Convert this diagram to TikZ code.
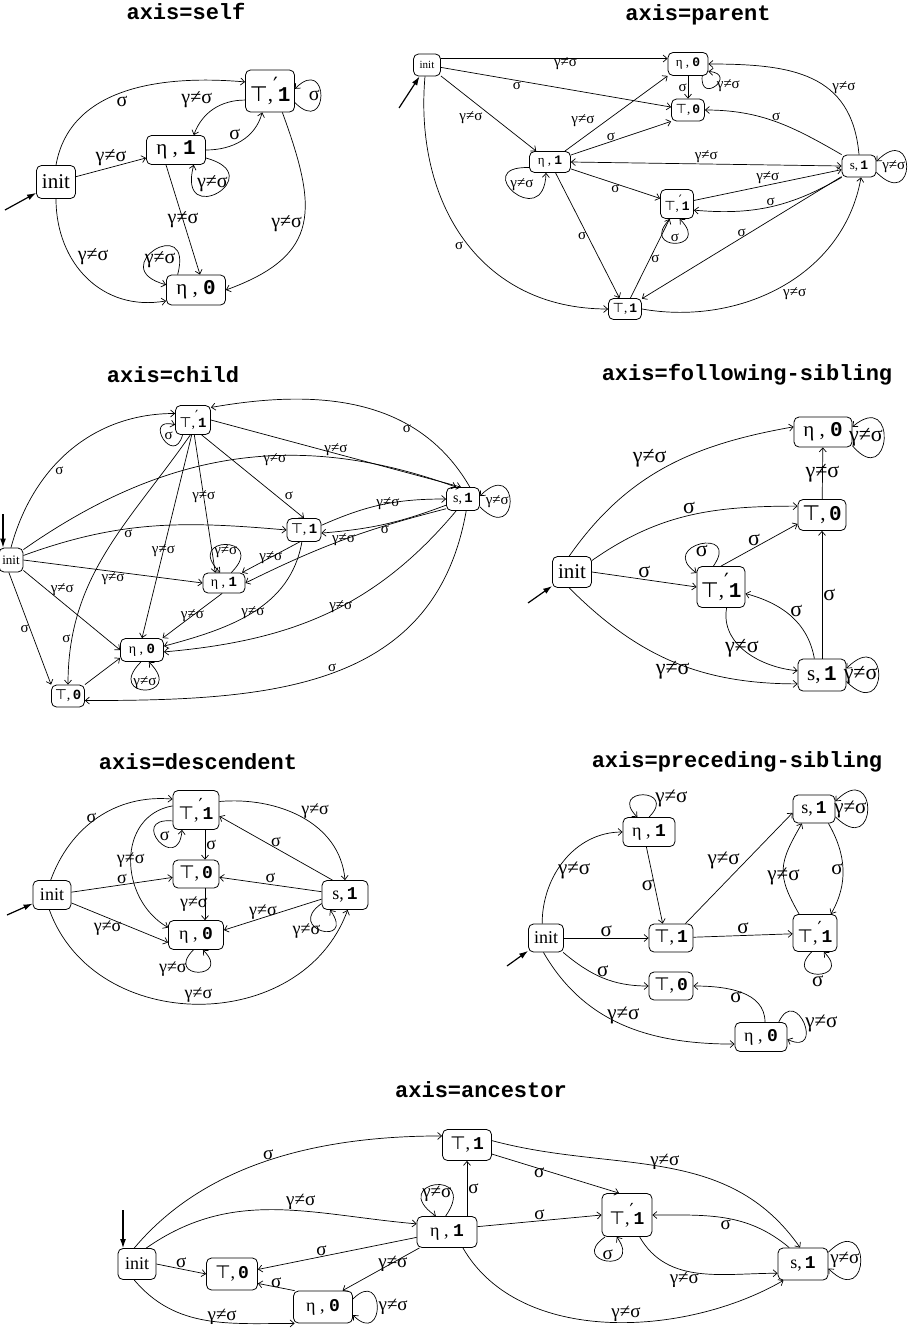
\documentclass[tikz,border=0pt]{standalone}
\usepackage{fontspec}
\setmainfont{Liberation Serif}
\setmonofont{Liberation Mono}
\newfontfamily\symf{DejaVu Sans}
\usetikzlibrary{arrows.meta}

\newcommand{\nm}[1]{\texttt{\bfseries #1}}
\newcommand{\stT}[1]{{\symf ⊤},\,\nm{#1}}
\newcommand{\stTp}[1]{{\symf ⊤},\raisebox{.45em}{\symf ′}\nm{#1}}
\newcommand{\stE}[1]{η\ ,\ \nm{#1}}
\newcommand{\stS}[1]{s,\,\nm{#1}}
\newcommand{\lgs}{γ≠σ}
\newcommand{\lsg}{σ}

\tikzset{
  >={Straight Barb[length=4pt,width=7pt]},
  st/.style 2 args={draw, rounded corners=5pt, line width=0.8pt, inner sep=0pt,
    minimum width=#1, minimum height=#2},
  tr/.style={->, line width=0.7pt},
  start/.style={-{Latex[length=9pt,width=6pt]}, line width=1.2pt},
  lbl/.style={inner sep=1pt},
  lp/.style={min distance=#1},
  ttl/.style={font=\fontsize{22}{24}\selectfont\ttfamily\bfseries}
}

\begin{document}
\begin{tikzpicture}[x=1pt,y=1pt]
\useasboundingbox (0,0) rectangle (921,-1330);

\node[ttl] (t1) at (186,-11) {axis=self};
\begin{scope}[font=\fontsize{21}{23}\selectfont, lbl/.style={inner sep=1pt,font=\fontsize{20}{22}\selectfont}]
\node[st={39}{33}] (sI) at (56,-182) {init};
\node[st={59}{29}] (sE1) at (176,-150) {\stE{1}};
\node[st={49}{42}] (sT1p) at (270,-91) {\stTp{1}};
\node[st={59}{30}] (sE0) at (196,-290) {\stE{0}};
\coordinate (s0) at (5,-210);
\draw[start] (s0) -- (sI);
\draw[tr] (sI) -- node[lbl,above] {\lgs} (sE1);
\draw[tr] (sE1.east) to[out=0,in=-105] node[lbl,above left] {\lsg} (sT1p.250);
\draw[tr] (sT1p.200) to[out=180,in=70] node[lbl,above left] {\lgs} (sE1.40);
\draw[tr] (sI.north) to[out=80,in=175] node[lbl,pos=.45,below right] {\lsg} (sT1p.160);
\draw[tr] (sI.south) to[out=-90,in=190,looseness=1.1] node[lbl,pos=.4,above right] {\lgs} (sE0.200);
\draw[tr] (sT1p.300) to[out=-70,in=20,looseness=1.4] node[lbl,left] {\lgs} (sE0.east);
\draw[tr] ([xshift=-10pt]sE1.south) -- node[lbl] {\lgs} ([xshift=4pt]sE0.north);
\draw[tr] (sT1p.335) to[out=-45,in=45,lp=49] node[lbl,anchor=0] {\lsg} (sT1p.5);
\draw[tr] (sE1.345) to[out=-15,in=-105,lp=68] node[lbl,anchor=300] {\lgs} (sE1.320);
\draw[tr] (sE0.140) to[out=75,in=165,lp=65] node[lbl,anchor=120] {\lgs} (sE0.170);
\end{scope}

\node[ttl] (t2) at (698,-15) {axis=parent};
\begin{scope}[font=\fontsize{13}{15}\selectfont, lbl/.style={inner sep=1pt,font=\fontsize{15}{17}\selectfont}]
\node[st={27}{22},font=\fontsize{11}{12}\selectfont] (pI) at (427,-65) {init};
\node[st={40}{23}] (pE0) at (688,-64) {\stE{0}};
\node[st={33}{22}] (pT0) at (688,-110) {\stT{0}};
\node[st={41}{21}] (pE1) at (550,-162) {\stE{1}};
\node[st={34}{22}] (pS1) at (859,-166) {\stS{1}};
\node[st={33}{29}] (pT1p) at (677,-204) {\stTp{1}};
\node[st={33}{21}] (pT1) at (625,-309) {\stT{1}};
\coordinate (p0) at (399,-108);
\draw[start] (p0) -- (pI);
\draw[tr] (pI.25) -- node[lbl,pos=.55,below=-2pt] {\lgs} (pE0.165);
\draw[tr] (pI) -- node[lbl,pos=.33,below] {\lsg} (pT0);
\draw[tr] (pI) -- node[lbl,pos=.45,below left] {\lgs} (pE1);
\draw[tr] (pI.260) to[out=-95,in=180,looseness=1.1] node[lbl,below left] {\lsg} (pT1.west);
\draw[tr] (pE1) -- node[lbl,pos=.3,above left] {\lgs} (pE0.south west);
\draw[tr] (pE1) -- node[lbl,pos=.4,above] {\lsg} (pT0.south west);
\draw[tr] (pE0) -- node[lbl,left] {\lsg} (pT0);
\draw[tr] (pE0.320) to[out=-95,in=-5,lp=30] node[lbl,right] {\lgs} (pE0.340);
\draw[tr,<->] (pE1.east) -- node[lbl,above] {\lgs} (pS1.west);
\draw[tr] (pE1.195) to[out=178,in=-92,lp=61] node[lbl,anchor=223] {\lgs} (pE1.250);
\draw[tr] (pE1) -- node[lbl,below] {\lsg} (pT1p);
\draw[tr] (pE1) -- node[lbl,left] {\lsg} (pT1);
\draw[tr] (pT1) -- node[lbl,right] {\lsg} (pT1p);
\draw[tr] (pT1p.245) to[out=-135,in=-45,lp=46] node[lbl,anchor=270] {\lsg} (pT1p.280);
\draw[tr] (pT1p) -- node[lbl,above] {\lgs} (pS1);
\draw[tr] (pS1.south west) to[out=-150,in=-5] node[lbl,above] {\lsg} (pT1p.340);
\draw[tr] (pS1.north west) to[out=150,in=0] node[lbl,above] {\lsg} (pT0.east);
\draw[tr] (pS1.north) to[out=95,in=0,looseness=1.2] node[lbl,pos=.35,above right=-2pt] {\lgs} (pE0.east);
\draw[tr] (pS1) -- node[lbl,above] {\lsg} (pT1);
\draw[tr] (pT1.east) to[out=-10,in=-100] node[lbl,below right] {\lgs} (pS1.280);
\draw[tr] (pS1.340) to[out=-45,in=45,lp=57] node[lbl,anchor=0] {\lgs} (pS1.15);
\end{scope}

\node[ttl] (t3) at (173,-375) {axis=child};
\begin{scope}[font=\fontsize{14}{16}\selectfont, lbl/.style={inner sep=1pt,font=\fontsize{15}{17}\selectfont}]
\node[st={35}{29}] (cT1p) at (193,-420) {\stTp{1}};
\node[st={33}{23}] (cS1) at (463,-499) {\stS{1}};
\node[st={34}{23}] (cT1) at (304,-530) {\stT{1}};
\node[st={24}{24},font=\fontsize{13}{15}\selectfont] (cI) at (11,-560) {init};
\node[st={42}{20}] (cE1) at (224,-583) {\stE{1}};
\node[st={43}{23}] (cE0) at (142,-650) {\stE{0}};
\node[st={33}{22}] (cT0) at (68,-696) {\stT{0}};
\coordinate (c0) at (3,-514);
\draw[start] (c0) -- (c0 |- cI.north);
\draw[tr] (cI.north) to[out=75,in=180] node[lbl,pos=.4,below right] {\lsg} (cT1p.160);
\draw[tr] (cI.40) to[out=35,in=160] node[lbl,pos=.6,below=-3pt] {\lgs} (cS1.120);
\draw[tr] (cT1p.east) -- node[lbl,above=-3pt] {\lgs} (cS1.100);
\draw[tr] (cS1.60) to[out=120,in=10] node[lbl,pos=.3,below left=-2pt] {\lsg} (cT1p.35);
\draw[tr] (cI.20) to[out=20,in=175] node[lbl,pos=.4,below] {\lsg} (cT1.west);
\draw[tr] (cI.east) -- node[lbl,below] {\lgs} (cE1.west);
\draw[tr] (cI.320) -- node[lbl,pos=.3,above right=-3pt] {\lgs} (cE0.west);
\draw[tr] (cI.260) -- node[lbl,left] {\lsg} (cT0.north west);
\draw[tr] (cT1p.260) to[out=-125,in=90] node[lbl,pos=.85,left] {\lsg} (cT0.north);
\draw[tr] (cT1p.265) -- node[lbl,pos=.57] {\lgs} (cE0.north);
\draw[tr] (cT1p.275) -- node[lbl,pos=.45] {\lgs} (cE1.130);
\draw[tr] (cT1p.300) -- node[lbl,pos=.8,above right] {\lsg} (cT1.north);
\draw[tr] (cT1p.235) to[out=-105,in=165,lp=34] node[lbl,anchor=210] {\lsg} (cT1p.195);
\draw[tr] (cT1.15) to[bend left=12] node[lbl,pos=.55] {\lgs} (cS1.west);
\draw[tr] (cS1.200) to[bend left=8] node[lbl,below] {\lsg} (cT1.350);
\draw[tr] (cT1.250) -- node[lbl] {\lgs} (cE1.30);
\draw[tr] (cT1.260) to[out=-100,in=15] node[lbl] {\lgs} (cE0.10);
\draw[tr] (cS1.210) to[bend right=6] node[lbl] {\lgs} (cE1.east);
\draw[tr] (cS1.240) to[out=-130,in=5] node[lbl,pos=.45] {\lgs} (cE0.355);
\draw[tr] (cS1.285) to[out=-100,in=0,looseness=1.1] node[lbl,above] {\lsg} (cT0.345);
\draw[tr] (cE1.260) -- node[lbl] {\lgs} (cE0.30);
\draw[tr] (cE1.55) to[out=45,in=135,lp=53] node[lbl,anchor=90] {\lgs} (cE1.110);
\draw[tr] (cE0.265) to[out=-135,in=-45,lp=53] node[lbl,anchor=270] {\lgs} (cE0.300);
\draw[tr] (cT0.north east) -- (cE0.200);
\draw[tr] (cS1.335) to[out=-45,in=45,lp=57] node[lbl,anchor=0] {\lgs} (cS1.10);
\end{scope}

\node[ttl] (t4) at (747,-375) {axis=following-sibling};
\begin{scope}[font=\fontsize{21}{23}\selectfont, lbl/.style={inner sep=1pt,font=\fontsize{22}{24}\selectfont}]
\node[st={58}{30}] (fE0) at (823,-432) {\stE{0}};
\node[st={48}{31}] (fT0) at (822,-515) {\stT{0}};
\node[st={39}{31}] (fI) at (572,-572) {init};
\node[st={48}{41}] (fT1p) at (721,-587) {\stTp{1}};
\node[st={48}{32}] (fS1) at (822,-675) {\stS{1}};
\coordinate (f0) at (528,-603);
\draw[start] (f0) -- (fI);
\draw[tr] (fI.100) to[out=55,in=190] node[lbl,above left=-2pt] {\lgs} (fE0.170);
\draw[tr] (fI.30) to[out=35,in=180] node[lbl,above] {\lsg} (fT0.160);
\draw[tr] (fI.east) -- node[lbl,above] {\lsg} (fT1p.west);
\draw[tr] (fI.260) to[out=-45,in=180] node[lbl,below=-2pt] {\lgs} (fS1.200);
\draw[tr] (fT1p.north) -- node[lbl,above left=-2pt] {\lsg} (fT0.200);
\draw[tr] (fT1p.110) to[out=55,in=145,lp=49] node[lbl,anchor=100] {\lsg} (fT1p.150);
\draw[tr] (fT1p.285) to[out=-100,in=175] node[lbl,pos=.45] {\lgs} (fS1.170);
\draw[tr] (fS1.115) to[out=100,in=-15] node[lbl,above right=-2pt] {\lsg} (fT1p.345);
\draw[tr] (fS1) -- node[lbl,right] {\lsg} (fT0);
\draw[tr] (fT0) -- node[lbl] {\lgs} (fE0);
\draw[tr] (fE0.335) to[out=-50,in=40,lp=60] node[lbl,anchor=355] {\lgs} (fE0.10);
\draw[tr] (fS1.345) to[out=-45,in=45,lp=61] node[lbl,anchor=0] {\lgs} (fS1.15);
\end{scope}

\node[ttl] (t5) at (198,-762) {axis=descendent};
\begin{scope}[font=\fontsize{18}{20}\selectfont, lbl/.style={inner sep=1pt,font=\fontsize{18}{20}\selectfont}]
\node[st={46}{39}] (dT1p) at (196,-810) {\stTp{1}};
\node[st={46}{28}] (dT0) at (196,-874) {\stT{0}};
\node[st={55}{29}] (dE0) at (196,-935) {\stE{0}};
\node[st={38}{29}] (dI) at (52,-895) {init};
\node[st={46}{29}] (dS1) at (345,-895) {\stS{1}};
\coordinate (d0) at (7,-915);
\draw[start] (d0) -- (dI);
\draw[tr] (dI.95) to[out=70,in=175] node[lbl,left] {\lsg} (dT1p.155);
\draw[tr] (dI) -- node[lbl,above] {\lsg} (dT0);
\draw[tr] (dI) -- node[lbl,below left=-3pt] {\lgs} (dE0.195);
\draw[tr] (dI.260) to[out=-70,in=-110,looseness=1.15] node[lbl,above] {\lgs} (dS1.280);
\draw[tr] ([xshift=9pt]dT1p.south) -- node[lbl,right] {\lsg} ([xshift=9pt]dT0.north);
\draw[tr] (dT1p.170) to[out=190,in=150,looseness=1.2] node[lbl] {\lgs} (dE0.165);
\draw[tr] (dT1p.205) to[out=175,in=265,lp=46] node[lbl,anchor=220] {\lsg} (dT1p.235);
\draw[tr] (dT1p.20) to[out=5,in=95] node[lbl,above right=-2pt] {\lgs} (dS1.north);
\draw[tr] (dS1.130) -- node[lbl,above] {\lsg} (dT1p.345);
\draw[tr] (dS1) -- node[lbl,above] {\lsg} (dT0);
\draw[tr] (dS1.190) -- node[lbl,pos=.6,above=-3pt] {\lgs} (dE0.10);
\draw[tr] (dS1.200) to[out=215,in=305,lp=46] node[lbl,left] {\lgs} (dS1.225);
\draw[tr] ([xshift=9pt]dT0.south) -- node[lbl,left=-4pt] {\lgs} ([xshift=9pt]dE0.north);
\draw[tr] (dE0.260) to[out=225,in=315,lp=42] node[lbl,pos=.3,left] {\lgs} (dE0.295);
\end{scope}

\node[ttl] (t6) at (737,-762) {axis=preceding-sibling};
\begin{scope}[font=\fontsize{18}{20}\selectfont, lbl/.style={inner sep=1pt,font=\fontsize{21}{23}\selectfont}]
\node[st={52}{29}] (qE1) at (649,-832) {\stE{1}};
\node[st={42}{28}] (qS1) at (814,-809) {\stS{1}};
\node[st={35}{28}] (qI) at (546,-938) {init};
\node[st={44}{28}] (qT1) at (671,-938) {\stT{1}};
\node[st={44}{37}] (qT1p) at (815,-933) {\stTp{1}};
\node[st={44}{28}] (qT0) at (671,-986) {\stT{0}};
\node[st={52}{29}] (qE0) at (761,-1037) {\stE{0}};
\coordinate (q0) at (507,-966);
\draw[start] (q0) -- (qI);
\draw[tr] (qI.105) to[out=90,in=180] node[lbl,pos=.4,right] {\lgs} (qE1.west);
\draw[tr] (qI) -- node[lbl,above] {\lsg} (qT1);
\draw[tr] (qI.320) to[out=-40,in=180] node[lbl,above] {\lsg} (qT0.west);
\draw[tr] (qI.260) to[out=-60,in=180] node[lbl,above] {\lgs} (qE0.195);
\draw[tr] (qE1.260) -- node[lbl,left] {\lsg} (qT1.120);
\draw[tr] (qE1.90) to[out=45,in=135,lp=42] node[lbl,pos=.3,right] {\lgs} (qE1.128);
\draw[tr] (qT1.45) -- node[lbl,above left=-2pt] {\lgs} (qS1.190);
\draw[tr] (qT1) -- node[lbl,above] {\lsg} (qT1p);
\draw[tr] (qS1.315) to[out=-60,in=60] node[lbl,left=-1pt] {\lsg} (qT1p.50);
\draw[tr] (qT1p.130) to[out=120,in=-120,looseness=1.3] node[lbl,pos=.4] {\lgs} (qS1.230);
\draw[tr] (qS1.340) to[out=-45,in=45,lp=61] node[lbl,anchor=0] {\lgs} (qS1.20);
\draw[tr] (qT1p.260) to[out=225,in=315,lp=42] node[lbl,below] {\lsg} (qT1p.295);
\draw[tr] (qE0.75) to[out=90,in=0] node[lbl,below left=-2pt] {\lsg} (qT0.east);
\draw[tr] (qE0.40) to[out=65,in=-25,lp=42] node[lbl,right] {\lgs} (qE0.355);
\end{scope}

\node[ttl] (t7) at (481,-1090) {axis=ancestor};
\begin{scope}[font=\fontsize{18}{20}\selectfont, lbl/.style={inner sep=1pt,font=\fontsize{19}{21}\selectfont}]
\node[st={49}{31}] (aT1) at (467,-1145) {\stT{1}};
\node[st={60}{31}] (aE1) at (447,-1232) {\stE{1}};
\node[st={50}{43}] (aT1p) at (627,-1215) {\stTp{1}};
\node[st={38}{31}] (aI) at (137,-1264) {init};
\node[st={51}{32}] (aT0) at (232,-1274) {\stT{0}};
\node[st={59}{32}] (aE0) at (323,-1307) {\stE{0}};
\node[st={50}{32}] (aS1) at (803,-1264) {\stS{1}};
\coordinate (a0) at (123,-1210);
\draw[start] (a0) -- (a0 |- aI.north);
\draw[tr] (aI.100) to[out=50,in=180,looseness=.9] node[lbl,above left=-2pt] {\lsg} (aT1.160);
\draw[tr] (aI.60) to[out=35,in=175] node[lbl,pos=.6,above] {\lgs} (aE1.165);
\draw[tr] (aI.east) -- node[lbl,above] {\lsg} (aT0.west);
\draw[tr] (aI.260) to[out=-50,in=180] node[lbl,pos=.6,above=-3pt] {\lgs} (aE0.210);
\draw[tr] (aE1.190) -- node[lbl,pos=.6,above] {\lsg} (aT0.10);
\draw[tr] (aE1.210) -- node[lbl,above right=-4pt] {\lgs} (aE0.40);
\draw[tr] (aE0.150) -- node[lbl,above=-2pt] {\lsg} (aT0.340);
\draw[tr] (aE0.15) to[out=45,in=-45,lp=46] node[lbl,right] {\lgs} (aE0.345);
\draw[tr] (aE1.north -| aT1) -- node[lbl,right] {\lsg} (aT1.south);
\draw[tr] (aE1.95) to[out=55,in=145,lp=60] node[lbl,anchor=100] {\lgs} (aE1.125);
\draw[tr] (aE1.10) -- node[lbl,above] {\lsg} (aT1p.west);
\draw[tr] (aE1.315) to[out=-60,in=-150,looseness=.9] node[lbl,pos=.55,above] {\lgs} (aS1.220);
\draw[tr] (aT1.340) -- node[lbl,pos=.4,below left=-3pt] {\lsg} (aT1p.110);
\draw[tr] (aT1.10) to[out=-15,in=125] node[lbl,above=-4pt] {\lgs} (aS1.100);
\draw[tr] (aS1.130) to[out=140,in=0] node[lbl,below] {\lsg} (aT1p.east);
\draw[tr] (aT1p.300) to[out=-60,in=180] node[lbl,below left=-2pt] {\lgs} (aS1.200);
\draw[tr] (aT1p.225) to[out=215,in=305,lp=46] node[lbl,anchor=260] {\lsg} (aT1p.245);
\draw[tr] (aS1.25) to[out=45,in=-45,lp=61] node[lbl,anchor=0] {\lgs} (aS1.350);
\end{scope}
\end{tikzpicture}
\end{document}
